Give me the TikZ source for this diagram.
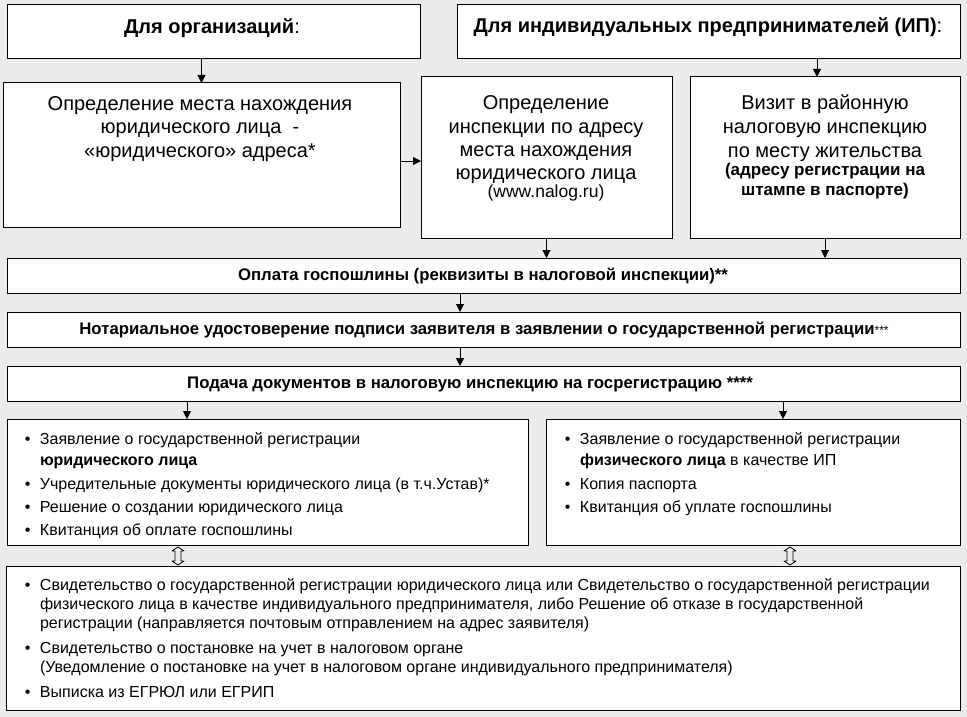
\documentclass[tikz,border=0pt]{standalone}
\usepackage{fontspec}
\setmainfont{Liberation Sans}
\usetikzlibrary{arrows.meta,calc}
\definecolor{bg}{RGB}{235,235,235}
\newcommand\mybul{\llap{\textbullet\hspace{9.5pt}}}
\begin{document}
\begin{tikzpicture}[x=1pt,y=-1pt,
  box/.style={draw=black, fill=white, line width=1pt, inner sep=0pt, outer sep=0pt, anchor=north west},
  arr/.style={line width=1pt, -{Triangle[length=8pt,width=8pt]}},
  hollow/.style={line width=0.8pt, line join=round},
  lbl/.style={inner sep=0pt, outer sep=0pt, anchor=base},
  big/.style={font=\fontsize{20}{23.5}\selectfont},
  smallb/.style={font=\fontsize{17}{20}\selectfont\bfseries},
  smallr/.style={font=\fontsize{17.5}{20}\selectfont},
  head/.style={font=\fontsize{20}{23}\selectfont},
  bar/.style={font=\fontsize{16.75}{20}\selectfont\bfseries},
  lst/.style={inner sep=0pt, outer sep=0pt, anchor=base west, align=left},
]
\fill[bg] (0,0) rectangle (967,717);
\useasboundingbox (0,0) rectangle (967,717);

% boxes
\node[box, minimum width=413pt, minimum height=54pt] (A) at (7,5) {};
\node[box, minimum width=503pt, minimum height=54pt] (B) at (457,5) {};
\node[box, minimum width=397pt, minimum height=144pt] (C) at (3,83) {};
\node[box, minimum width=251pt, minimum height=161pt] (D) at (421,77) {};
\node[box, minimum width=270pt, minimum height=161pt] (E) at (690,77) {};
\node[box, minimum width=953pt, minimum height=35pt] (F) at (7,258) {};
\node[box, minimum width=953pt, minimum height=35pt] (G) at (7,312) {};
\node[box, minimum width=953pt, minimum height=35pt] (H) at (7,366) {};
\node[box, minimum width=521pt, minimum height=126pt] (I) at (7,419) {};
\node[box, minimum width=414pt, minimum height=126pt] (J) at (546,419) {};
\node[box, minimum width=954pt, minimum height=144pt] (K) at (6,566) {};

% texts
\node[lbl, head] (At) at (212,34) {\textbf{Для организаций}:};
\node[lbl, head] (Bt) at (708,33) {\textbf{Для индивидуальных предпринимателей (ИП)}:};
\node[lbl, big, align=center] (Ct) at (200,157)
  {Определение места нахождения\\юридического лица\ \ -\\«юридического» адреса*};

\node[lbl, big] (D1) at (546,110) {Определение};
\node[lbl, big] (D2) at (546,133) {инспекции по адресу};
\node[lbl, big] (D3) at (546,156) {места нахождения};
\node[lbl, big] (D4) at (546,179) {юридического лица};
\node[lbl, smallr] (D5) at (546,197) {(www.nalog.ru)};

\node[lbl, big] (E1) at (825,110) {Визит в районную};
\node[lbl, big] (E2) at (825,133) {налоговую инспекцию};
\node[lbl, big] (E3) at (825,157) {по месту жительства};
\node[lbl, smallb] (E4) at (825,175) {(адресу регистрации на};
\node[lbl, smallb] (E5) at (825,195) {штампе в паспорте)};

\node[lbl, bar] (Ft) at (483,280) {Оплата госпошлины (реквизиты в налоговой инспекции)**};
\node[lbl, bar] (Gt) at (484,334) {Нотариальное удостоверение подписи заявителя в заявлении о государственной регистрации{\mdseries\fontsize{12}{14}\selectfont***}};
\node[lbl, bar] (Ht) at (470,388) {Подача документов в налоговую инспекцию на госрегистрацию ****};

\node[lst, font=\fontsize{16}{21}\selectfont] (It) at (40,535)
  {\mybul Заявление о государственной регистрации\\
   \textbf{юридического лица}\\[3pt]
   \mybul Учредительные документы юридического лица (в т.ч.Устав)*\\[2pt]
   \mybul Решение о создании юридического лица\\[2pt]
   \mybul Квитанция об оплате госпошлины};
\node[lst, font=\fontsize{16}{21}\selectfont] (Jt) at (580,512)
  {\mybul Заявление о государственной регистрации\\
   \textbf{физического лица} в качестве ИП\\[3pt]
   \mybul Копия паспорта\\[2pt]
   \mybul Квитанция об уплате госпошлины};
\node[lst, font=\fontsize{16}{19}\selectfont] (Kt) at (40,697)
  {\mybul Свидетельство о государственной регистрации юридического лица или Свидетельство о государственной регистрации\\
   физического лица в качестве индивидуального предпринимателя, либо Решение об отказе в государственной\\
   регистрации (направляется почтовым отправлением на адрес заявителя)\\[6pt]
   \mybul Свидетельство о постановке на учет в налоговом органе\\
   (Уведомление о постановке на учет в налоговом органе индивидуального предпринимателя)\\[6pt]
   \mybul Выписка из ЕГРЮЛ или ЕГРИП};

% helper positions
\coordinate (xBE) at (817,0);
\coordinate (xFG) at (460,0);
\coordinate (xHI) at (187,0);
\coordinate (xHJ) at (783,0);
\coordinate (xIK) at (178,0);
\coordinate (xJK) at (790,0);
\coordinate (yCD) at (0,161);

% connectors
\draw[arr] (A.south -| C.north) -- (C.north);
\draw[arr] (B.south -| xBE) -- (E.north -| xBE);
\draw[arr] (C.east |- yCD) -- (D.west |- yCD);
\draw[arr] (D.south) -- (D.south |- F.north);
\draw[arr] (E.south) -- (E.south |- F.north);
\draw[arr] (F.south -| xFG) -- (G.north -| xFG);
\draw[arr] (G.south -| xFG) -- (H.north -| xFG);
\draw[arr] (H.south -| xHI) -- (I.north -| xHI);
\draw[arr] (H.south -| xHJ) -- (J.north -| xHJ);
% hollow double arrows between the lists and the result box
\draw[hollow] ($(I.south -| xIK)+(0,2)$) -- ++(6,4) -- ++(-3,0) -- ++(0,10) -- ++(3,0)
  -- ++(-6,4) -- ++(-6,-4) -- ++(3,0) -- ++(0,-10) -- ++(-3,0) -- cycle;
\draw[hollow] ($(J.south -| xJK)+(0,2)$) -- ++(6,4) -- ++(-3,0) -- ++(0,10) -- ++(3,0)
  -- ++(-6,4) -- ++(-6,-4) -- ++(3,0) -- ++(0,-10) -- ++(-3,0) -- cycle;
\end{tikzpicture}
\end{document}
